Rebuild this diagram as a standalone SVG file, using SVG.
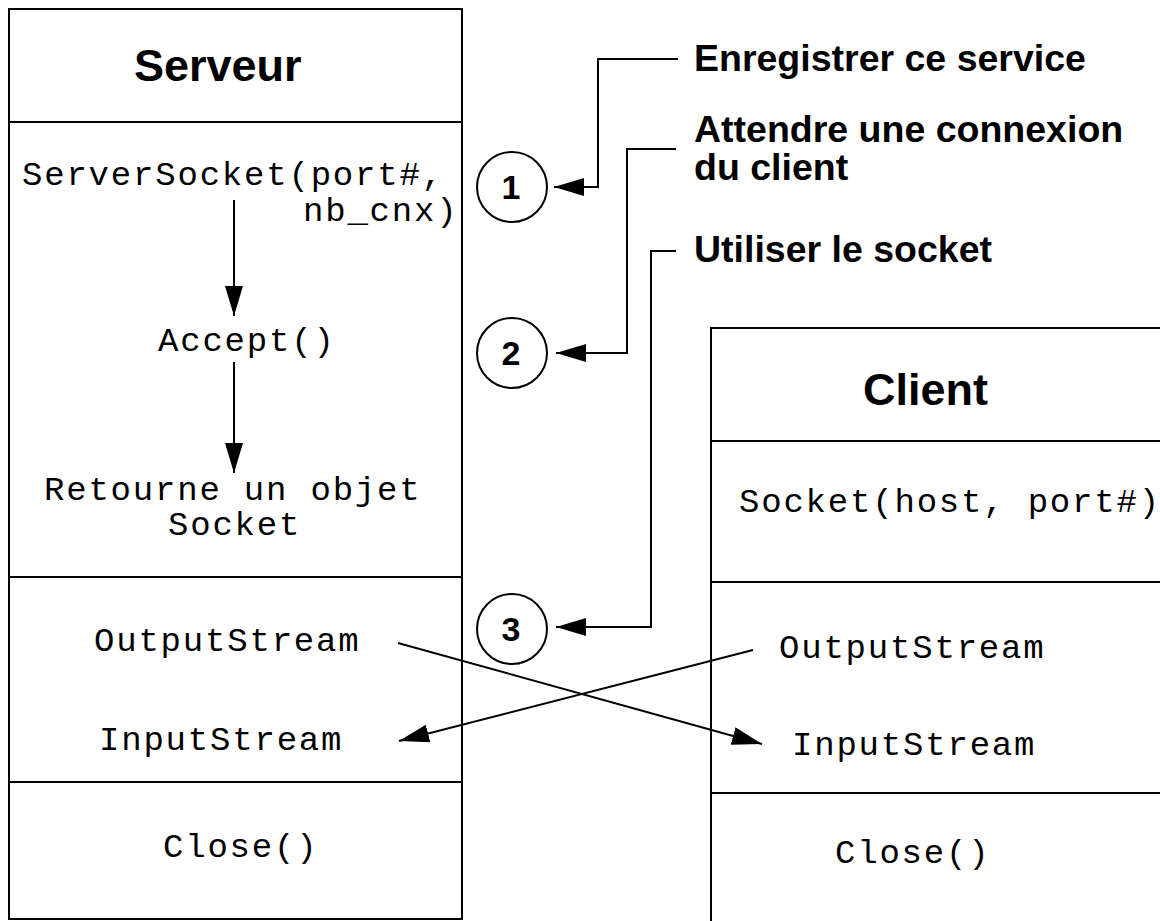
<svg xmlns="http://www.w3.org/2000/svg" width="1160" height="921" viewBox="0 0 1160 921">
  <style>
    .box { fill: #fff; stroke: #000; stroke-width: 2; }
    .sep { stroke: #000; stroke-width: 2; }
    .title { font-family: "Liberation Sans", Arial, sans-serif; font-weight: bold; font-size: 45px; fill: #000; }
    .label { font-family: "Liberation Sans", Arial, sans-serif; font-weight: bold; font-size: 37.5px; fill: #000; }
    .num { font-family: "Liberation Sans", Arial, sans-serif; font-weight: bold; font-size: 34px; fill: #000; text-anchor: middle; }
    .code { font-family: "Liberation Mono", "Courier New", monospace; font-size: 34px; letter-spacing: 1.8px; fill: #000; }
    .wire { fill: none; stroke: #000; stroke-width: 2; }
    .step { fill: #fff; stroke: #000; stroke-width: 2; }
  </style>
  <defs>
    <marker id="head" markerUnits="userSpaceOnUse" markerWidth="31" markerHeight="19" refX="30" refY="9" orient="auto" viewBox="0 0 31 19">
      <path d="M0,0 L30,9 L0,18 Z" fill="#000"/>
    </marker>
  </defs>

  <rect width="1160" height="921" fill="#fff"/>

  <!-- Server object -->
  <g id="serveur">
    <rect class="box" x="9" y="9" width="453" height="910"/>
    <line class="sep" x1="9" y1="122" x2="462" y2="122"/>
    <line class="sep" x1="9" y1="577" x2="462" y2="577"/>
    <line class="sep" x1="9" y1="782" x2="462" y2="782"/>
    <text class="title" x="134" y="81">Serveur</text>
    <text class="code" x="22" y="185">ServerSocket(port#,</text>
    <text class="code" x="303" y="221">nb_cnx)</text>
    <text class="code" x="158" y="351">Accept()</text>
    <text class="code" x="44" y="500">Retourne un objet</text>
    <text class="code" x="168" y="535">Socket</text>
    <text class="code" x="94" y="651">OutputStream</text>
    <text class="code" x="99" y="750">InputStream</text>
    <text class="code" x="163" y="857">Close()</text>
  </g>

  <!-- Client object -->
  <g id="client">
    <rect class="box" x="711" y="328" width="470" height="620"/>
    <line class="sep" x1="711" y1="441" x2="1160" y2="441"/>
    <line class="sep" x1="711" y1="582" x2="1160" y2="582"/>
    <line class="sep" x1="711" y1="793" x2="1160" y2="793"/>
    <text class="title" x="863" y="405" font-size="46">Client</text>
    <text class="code" x="739" y="512">Socket(host, port#)</text>
    <text class="code" x="779" y="658">OutputStream</text>
    <text class="code" x="792" y="755">InputStream</text>
    <text class="code" x="835" y="863">Close()</text>
  </g>

  <!-- Numbered steps -->
  <g id="step1">
    <circle class="step" cx="512" cy="187" r="35"/>
    <text class="num" x="511" y="199">1</text>
  </g>
  <g id="step2">
    <circle class="step" cx="512" cy="353" r="35"/>
    <text class="num" x="511" y="365">2</text>
  </g>
  <g id="step3">
    <circle class="step" cx="512" cy="629" r="35"/>
    <text class="num" x="511" y="641">3</text>
  </g>

  <!-- Step descriptions -->
  <g id="label1">
    <text class="label" x="694" y="71">Enregistrer ce service</text>
  </g>
  <g id="label2">
    <text class="label" x="694" y="142">Attendre une connexion</text>
    <text class="label" x="694" y="180">du client</text>
  </g>
  <g id="label3">
    <text class="label" x="694" y="262">Utiliser le socket</text>
  </g>

  <!-- Connectors -->
  <g id="connectors">
    <path class="wire" d="M678,59 H598 V187 H554" marker-end="url(#head)"/>
    <path class="wire" d="M676,149 H627 V353 H556" marker-end="url(#head)"/>
    <path class="wire" d="M676,251 H651 V627 H556" marker-end="url(#head)"/>
    <line class="wire" x1="234" y1="200" x2="234" y2="316" marker-end="url(#head)"/>
    <line class="wire" x1="234" y1="362" x2="234" y2="473" marker-end="url(#head)"/>
    <line class="wire" x1="398" y1="643" x2="762" y2="744" marker-end="url(#head)"/>
    <line class="wire" x1="753" y1="650" x2="399" y2="741" marker-end="url(#head)"/>
  </g>
</svg>
